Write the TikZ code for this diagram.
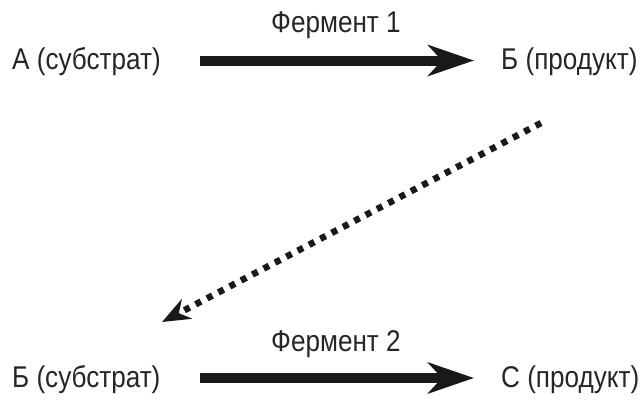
\documentclass[tikz,border=0pt]{standalone}
\usepackage{fontspec}
\setmainfont{Liberation Sans}[FakeStretch=0.87]
\usetikzlibrary{arrows.meta}
\begin{document}
\begin{tikzpicture}[x=1pt,y=-1pt,
  lbl/.style={inner sep=0pt,anchor=base west,font=\fontsize{30}{32}\selectfont,text=black!85},
  bigarrow/.style={line width=10pt,draw=black!90,-{Stealth[length=46pt,width=31pt,inset=14pt]}},
  dotarrow/.style={line width=6.5pt,draw=black!90,line cap=butt,dash pattern=on 6pt off 6.8pt,-{Stealth[length=28pt,width=22pt,inset=9pt]}}]
\useasboundingbox (0,0) rectangle (644,404);
\node[lbl] (a) at (12,69) {А (субстрат)};
\node[lbl] (b) at (501,69) {Б (продукт)};
\node[lbl] (f1) at (271,33) {Фермент 1};
\coordinate (a1s) at (200,60.5);
\coordinate (a1e) at (474,60.5);
\draw[bigarrow] (a1s) -- (a1e);
\coordinate (ds) at (541,123);
\coordinate (de) at (162,322);
\draw[dotarrow] (ds) -- (de);
\node[lbl] (b2) at (12,387) {Б (субстрат)};
\node[lbl] (c) at (501,387) {С (продукт)};
\node[lbl] (f2) at (271,351) {Фермент 2};
\coordinate (a2s) at (200,378);
\coordinate (a2e) at (474,378);
\draw[bigarrow] (a2s) -- (a2e);
\end{tikzpicture}
\end{document}
